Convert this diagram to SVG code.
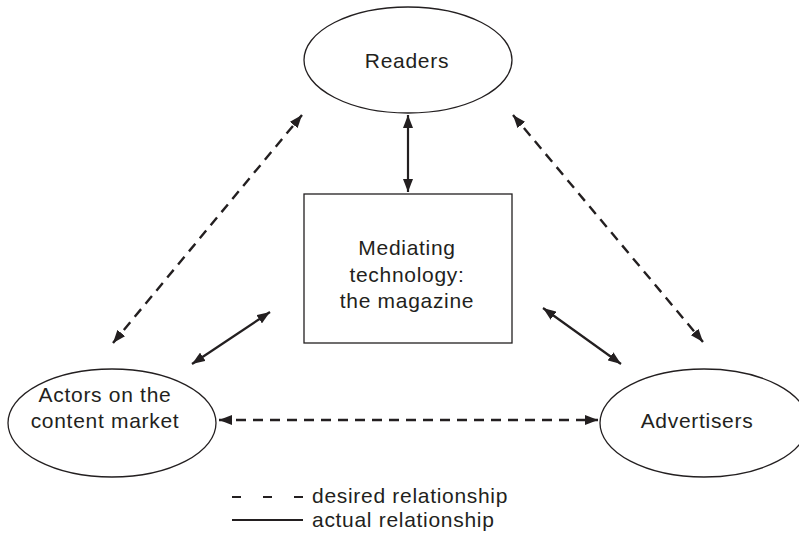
<svg xmlns="http://www.w3.org/2000/svg" width="799" height="536" viewBox="0 0 799 536">
  <style>
    .node { fill: #ffffff; stroke: #231f20; stroke-width: 1.3; }
    .label { font-family: "Liberation Sans", Arial, sans-serif; font-size: 21px; letter-spacing: 0.7px; fill: #231f20; text-anchor: middle; }
    .legend { font-family: "Liberation Sans", Arial, sans-serif; font-size: 21px; letter-spacing: 0.7px; fill: #231f20; }
    .actual { stroke: #231f20; stroke-width: 2.2; fill: none; }
    .desired { stroke: #231f20; stroke-width: 2.4; fill: none; stroke-dasharray: 10 7; }
  </style>
  <defs>
    <marker id="head" viewBox="0 0 13 10" refX="13" refY="5" markerWidth="13" markerHeight="10" markerUnits="userSpaceOnUse" orient="auto-start-reverse">
      <path d="M0,0 L13,5 L0,10 Z" fill="#231f20"/>
    </marker>
  </defs>

  <rect width="799" height="536" fill="#ffffff"/>

  <g id="readers">
    <ellipse class="node" cx="408" cy="60" rx="104" ry="53"/>
    <text class="label" x="407" y="68">Readers</text>
  </g>

  <g id="magazine">
    <rect class="node" x="304" y="194" width="208" height="149"/>
    <text class="label" x="407" y="255">Mediating</text>
    <text class="label" x="407" y="282">technology:</text>
    <text class="label" x="407" y="308">the magazine</text>
  </g>

  <g id="actors">
    <ellipse class="node" cx="112" cy="423" rx="104" ry="54"/>
    <text class="label" x="105" y="402">Actors on the</text>
    <text class="label" x="105" y="428">content market</text>
  </g>

  <g id="advertisers">
    <ellipse class="node" cx="704" cy="423" rx="104" ry="54"/>
    <text class="label" x="697" y="428">Advertisers</text>
  </g>

  <g id="connectors">
    <line class="actual" x1="408" y1="115" x2="408" y2="192" marker-start="url(#head)" marker-end="url(#head)"/>
    <line class="actual" x1="192" y1="364" x2="270" y2="312" marker-start="url(#head)" marker-end="url(#head)"/>
    <line class="actual" x1="543" y1="308" x2="621" y2="364" marker-start="url(#head)" marker-end="url(#head)"/>
    <line class="desired" x1="113" y1="343" x2="302" y2="115" marker-start="url(#head)" marker-end="url(#head)"/>
    <line class="desired" x1="513" y1="115" x2="703" y2="342" marker-start="url(#head)" marker-end="url(#head)"/>
    <line class="desired" x1="219" y1="420" x2="598" y2="420" marker-start="url(#head)" marker-end="url(#head)"/>
  </g>

  <g id="legend">
    <line class="actual" x1="232" y1="497" x2="303" y2="497" stroke-dasharray="9 22"/>
    <line class="actual" x1="232" y1="520" x2="303" y2="520"/>
    <text class="legend" x="312" y="503">desired relationship</text>
    <text class="legend" x="312" y="527">actual relationship</text>
  </g>
</svg>
